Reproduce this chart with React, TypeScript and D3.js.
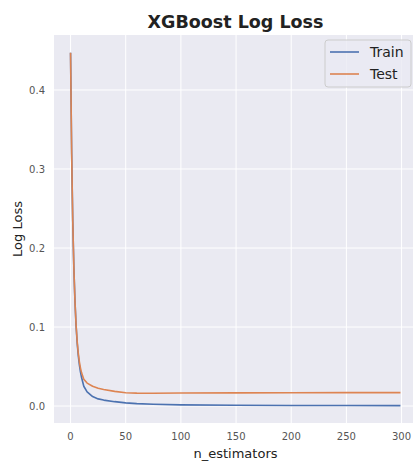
import React from "react";
import * as d3 from "d3";

const estimators = [0, 1, 2, 3, 4, 5, 6, 7, 8, 9, 10, 12, 15, 20, 25, 30, 40, 50, 60, 75, 100, 150, 200, 250, 299];
const trainLoss = [0.447, 0.319, 0.234, 0.175, 0.133, 0.102, 0.08, 0.064, 0.052, 0.043, 0.036, 0.025, 0.018, 0.012, 0.009, 0.0075, 0.0055, 0.004, 0.003, 0.0022, 0.0015, 0.001, 0.0007, 0.0006, 0.0005];
const testLoss = [0.447, 0.319, 0.234, 0.175, 0.133, 0.103, 0.082, 0.067, 0.056, 0.048, 0.042, 0.034, 0.029, 0.025, 0.0225, 0.021, 0.0185, 0.0168, 0.0163, 0.0162, 0.0164, 0.0166, 0.0168, 0.0169, 0.017];
const xTicks = [0, 50, 100, 150, 200, 250, 300];
const yTicks = [0.0, 0.1, 0.2, 0.3, 0.4];
const seriesNames = ["Train", "Test"];
const seriesColors = ["#4c72b0", "#dd8452"];

export default function App() {
  const W = 413, H = 461;
  const left = 54, right = 417, top = 35, bottom = 423;
  const x = d3.scaleLinear().domain([-15, 314]).range([left, right]);
  const y = d3.scaleLinear().domain([-0.0215, 0.4696]).range([bottom, top]);
  const line = d3.line<[number, number]>().x(d => x(d[0])).y(d => y(d[1]));
  const series = [trainLoss, testLoss].map(vals => estimators.map((e, i) => [e, vals[i]] as [number, number]));
  const font = "'DejaVu Sans', sans-serif";
  return (
    <svg width={W} height={H} style={{ position: "absolute", left: 0, top: 0, display: "block" }} fontFamily={font}>
      <rect x={0} y={0} width={W} height={H} fill="#ffffff" />
      <rect x={left} y={top} width={right - left} height={bottom - top} fill="#eaeaf2" />
      {xTicks.map(t => (
        <line key={"gx" + t} x1={x(t)} x2={x(t)} y1={top} y2={bottom} stroke="#ffffff" strokeWidth={1} />
      ))}
      {yTicks.map(t => (
        <line key={"gy" + t} x1={left} x2={right} y1={y(t)} y2={y(t)} stroke="#ffffff" strokeWidth={1} />
      ))}
      <g clipPath="url(#clip)">
        <clipPath id="clip"><rect x={left} y={top} width={right - left} height={bottom - top} /></clipPath>
        {series.map((s, i) => (
          <path key={i} d={line(s) || ""} fill="none" stroke={seriesColors[i]} strokeWidth={1.6} strokeLinejoin="round" />
        ))}
      </g>
      {xTicks.map(t => (
        <text key={"tx" + t} x={x(t)} y={440} textAnchor="middle" fontSize={10} fill="#555">{t}</text>
      ))}
      {yTicks.map(t => (
        <text key={"ty" + t} x={45} y={y(t) + 3.6} textAnchor="end" fontSize={10} fill="#555">{t.toFixed(1)}</text>
      ))}
      <text x={(left + right) / 2} y={28} textAnchor="middle" fontSize={17.5} fontWeight="bold" fill="#222">XGBoost Log Loss</text>
      <text x={(left + right) / 2} y={458} textAnchor="middle" fontSize={13} fill="#222">n_estimators</text>
      <text transform={`translate(22,${(top + bottom) / 2}) rotate(-90)`} textAnchor="middle" fontSize={13} fill="#222">Log Loss</text>
      <g>
        <rect x={325} y={40} width={86} height={47} rx={3} fill="#eaeaf2" fillOpacity={0.8} stroke="#cccccc" strokeWidth={1} />
        {seriesNames.map((n, i) => (
          <g key={n}>
            <line x1={330} x2={359} y1={52 + i * 22} y2={52 + i * 22} stroke={seriesColors[i]} strokeWidth={1.6} />
            <text x={370} y={57 + i * 22} fontSize={14} fill="#222">{n}</text>
          </g>
        ))}
      </g>
    </svg>
  );
}
